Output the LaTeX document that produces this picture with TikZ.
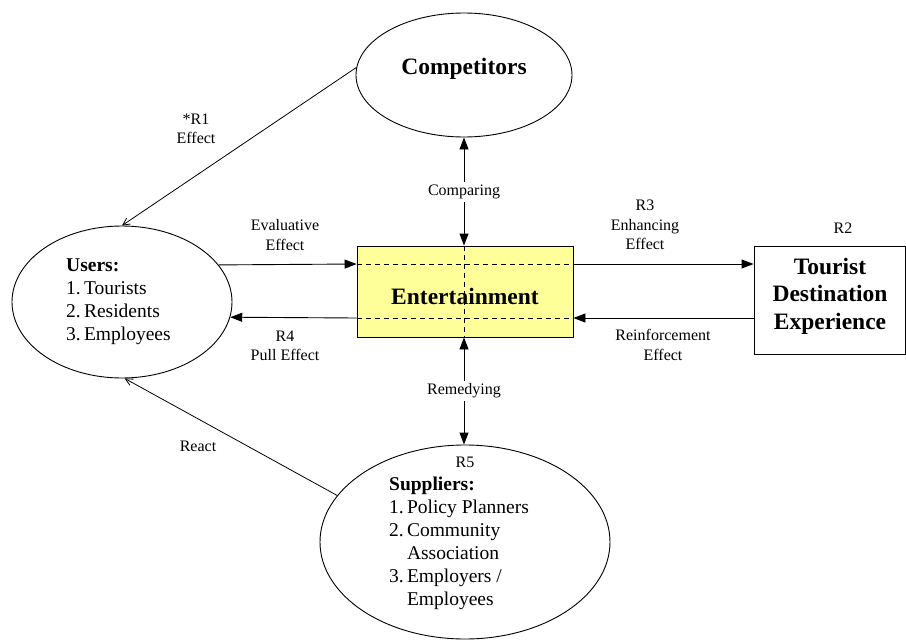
\documentclass[tikz,border=0pt]{standalone}
\usepackage{fontspec}
\setmainfont{Liberation Serif}
\usetikzlibrary{shapes.geometric,arrows.meta}
\definecolor{entyellow}{HTML}{FFFF99}
\tikzset{
  oval/.style={draw, ellipse, line width=0.9pt, inner sep=0pt},
  lbl/.style={font=\fontsize{16}{19.5}\selectfont, align=center, inner sep=1pt},
  body/.style={font=\fontsize{19.5}{23}\selectfont, inner sep=0pt, anchor=base west},
  title/.style={font=\fontsize{23.5}{27.5}\selectfont\bfseries, align=center, inner sep=0pt},
  bigarrow/.style={line width=0.9pt, -{Triangle[length=12pt,width=9pt]}},
  bothbig/.style={line width=0.9pt, {Triangle[length=12pt,width=9pt]}-{Triangle[length=12pt,width=9pt]}},
  thinarrow/.style={line width=0.8pt, -{Straight Barb[length=7pt,width=7pt]}},
  dashln/.style={line width=0.8pt, dash pattern=on 5pt off 4pt},
}
\begin{document}
\begin{tikzpicture}[x=1pt,y=-1pt]
\useasboundingbox (0,0) rectangle (906,640);
% nodes
\node[oval, minimum width=216pt, minimum height=124pt] (comp) at (464,75) {};
\node[title] (comptxt) at (464,69) {Competitors};
\node[oval, minimum width=220pt, minimum height=152pt] (users) at (122,302) {};
\node[body] (userstxt) at (66,271)
  {\begin{tabular}[t]{@{}l@{\,}l@{}}
   \multicolumn{2}{@{}l@{}}{\textbf{Users:}}\\
   1. & Tourists\\
   2. & Residents\\
   3. & Employees
   \end{tabular}};
\node[oval, minimum width=290pt, minimum height=194pt] (sup) at (465,542) {};
\node[lbl] (r5) at (465,462) {R5};
\node[body] (suptxt) at (389,490)
  {\begin{tabular}[t]{@{}l@{\,}l@{}}
   \multicolumn{2}{@{}l@{}}{\textbf{Suppliers:}}\\
   1. & Policy Planners\\
   2. & Community\\
      & Association\\
   3. & Employers /\\
      & Employees
   \end{tabular}};
\node[draw, fill=entyellow, line width=0.9pt, minimum width=216pt, minimum height=91pt, inner sep=0pt] (ent) at (465,291.5) {};
\node[draw, line width=0.9pt, minimum width=151pt, minimum height=108pt, inner sep=0pt] (tde) at (829.5,300) {};
% dashed lines inside entertainment box
\coordinate (rowA) at (0,264);
\coordinate (rowB) at (0,318);
\coordinate (colC) at (464,0);
\draw[dashln] (ent.west |- rowA) -- (ent.east |- rowA);
\draw[dashln] (ent.west |- rowB) -- (ent.east |- rowB);
\draw[dashln] (colC |- ent.north) -- (colC |- ent.south);
\node[title] (enttxt) at (465,296) {Entertainment};
\node[title] (tdetxt) at (830,296) {Tourist\\Destination\\Experience};
% horizontal arrows
\draw[bigarrow] (users.21.8) -- (ent.west |- rowA);
\draw[bigarrow] (ent.west |- rowB) -- (users.-8.5);
\draw[bigarrow] (ent.east |- rowA) -- (tde.west |- rowA);
\draw[bigarrow] (tde.west |- rowB) -- (ent.east |- rowB);
% vertical arrows
\draw[bothbig] (comp.south) -- (colC |- ent.north);
\node[lbl, fill=white, inner sep=3pt] (cmplbl) at (464,192) {Comparing};
\draw[bothbig] (colC |- ent.south) -- (colC |- sup.north);
\node[lbl, fill=white, inner sep=3pt] (remlbl) at (464,391) {Remedying};
% diagonal arrows
\draw[thinarrow] (comp.176) -- (users.north);
\draw[thinarrow] (sup.160.6) -- (users.-88);
% labels
\node[lbl] (r1) at (196,129) {*R1\\Effect};
\node[lbl] (eval) at (285,235) {Evaluative\\Effect};
\node[lbl] (r4) at (285,346) {R4\\Pull Effect};
\node[lbl] (r3) at (645,225) {R3\\Enhancing\\Effect};
\node[lbl] (r2) at (843,228) {R2};
\node[lbl] (reinf) at (663,345) {Reinforcement\\Effect};
\node[lbl] (react) at (198,446) {React};
\end{tikzpicture}
\end{document}
